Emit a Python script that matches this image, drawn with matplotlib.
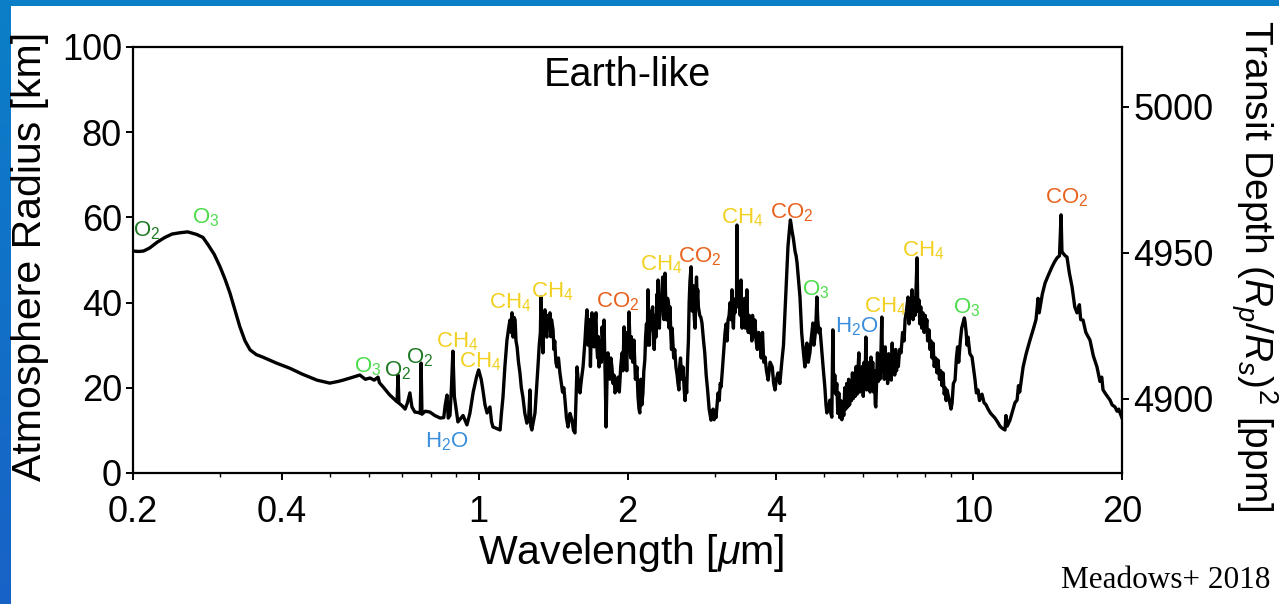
import matplotlib
matplotlib.use("Agg")
import matplotlib.pyplot as plt
import numpy as np
from matplotlib.colors import LinearSegmentedColormap
from matplotlib.ticker import FixedLocator, FixedFormatter, NullFormatter

plt.rcParams['font.family'] = ['Liberation Sans', 'DejaVu Sans']
plt.rcParams['mathtext.fontset'] = 'custom'
plt.rcParams['mathtext.rm'] = 'Liberation Sans'
plt.rcParams['mathtext.it'] = 'Liberation Sans:italic'
plt.rcParams['mathtext.bf'] = 'Liberation Sans:bold'

# ---- spectrum, split by region: wavelength [um] / atmosphere height [km] ----
uv_vis_wl = [
    0.200, 0.205, 0.210, 0.216, 0.224, 0.232, 0.240, 0.249, 0.258, 0.269,
    0.277, 0.284, 0.292, 0.300, 0.307, 0.314, 0.321, 0.329, 0.337, 0.345,
    0.355, 0.366, 0.390, 0.415, 0.440, 0.471, 0.500, 0.520, 0.532, 0.550,
    0.575, 0.590, 0.603, 0.615, 0.626, 0.630, 0.641, 0.660, 0.684, 0.687,
    0.690, 0.700, 0.710, 0.718, 0.726, 0.733, 0.743, 0.755, 0.762, 0.765,
    0.768, 0.780, 0.797, 0.815, 0.836, 0.850, 0.856, 0.863, 0.868, 0.875,
    0.881, 0.887, 0.893, 0.908, 0.930, 0.947, 0.960, 0.975, 0.990,
]
uv_vis_km = [
    52.1, 52.0, 52.1, 52.8, 54.2, 55.3, 56.1, 56.4, 56.6, 56.0,
    55.3, 53.5, 51.3, 48.4, 45.5, 42.3, 38.5, 34.3, 31.0, 28.9,
    27.8, 27.2, 25.8, 24.6, 23.2, 21.8, 21.1, 21.5, 21.8, 22.3,
    23.0, 22.0, 22.3, 21.8, 22.5, 21.2, 20.2, 18.4, 16.7, 23.0,
    16.4, 15.8, 15.0, 16.5, 18.8, 15.5, 14.3, 14.2, 14.0, 25.8,
    13.8, 14.5, 14.3, 13.5, 12.9, 13.0, 16.0, 18.3, 12.9, 13.5,
    20.0, 28.6, 18.0, 12.0, 13.5, 11.3, 14.0, 19.0, 22.5,
]

nir_wl = [
    1.000, 1.012, 1.020, 1.030, 1.040, 1.054, 1.062, 1.069, 1.085, 1.105,
    1.112, 1.120, 1.130, 1.141, 1.150, 1.157, 1.163, 1.168, 1.174, 1.180,
    1.185, 1.190, 1.196, 1.204, 1.212, 1.220, 1.229, 1.240, 1.252, 1.262,
    1.270, 1.275, 1.281, 1.290, 1.300, 1.310, 1.318, 1.326, 1.333, 1.337,
    1.340, 1.345, 1.349, 1.355, 1.362, 1.368, 1.374, 1.380, 1.385, 1.394,
    1.399, 1.404, 1.414, 1.420, 1.425, 1.433, 1.440, 1.450, 1.460, 1.470,
    1.478, 1.487, 1.495, 1.505, 1.516, 1.530, 1.545, 1.555, 1.566, 1.573,
    1.581, 1.592, 1.603, 1.614, 1.626, 1.633, 1.641, 1.648, 1.656, 1.664,
    1.671, 1.677, 1.683, 1.689, 1.695, 1.703, 1.711, 1.719, 1.727, 1.733,
    1.740, 1.746, 1.752, 1.758, 1.765, 1.771, 1.777, 1.785, 1.793, 1.798,
    1.803, 1.810, 1.818, 1.826, 1.834, 1.843, 1.851, 1.860, 1.870, 1.878,
    1.887, 1.900, 1.913, 1.925, 1.938, 1.950, 1.958, 1.968, 1.976, 1.986,
    1.993, 2.000, 2.007, 2.014, 2.022, 2.030, 2.036, 2.042, 2.050, 2.061,
    2.075, 2.090, 2.100, 2.110, 2.118, 2.128, 2.138, 2.149, 2.158, 2.168,
    2.176, 2.185, 2.192, 2.200, 2.207, 2.215, 2.222, 2.229, 2.238, 2.249,
    2.257, 2.265, 2.275, 2.284, 2.290, 2.295, 2.300, 2.306, 2.313, 2.320,
    2.328, 2.335, 2.345, 2.356, 2.363, 2.370, 2.376, 2.382, 2.390, 2.402,
    2.410, 2.420, 2.428, 2.438, 2.446, 2.455, 2.462, 2.469, 2.480, 2.492,
    2.506, 2.520, 2.530, 2.541, 2.550, 2.560, 2.575, 2.590, 2.603, 2.615,
    2.625, 2.634, 2.645, 2.656, 2.665, 2.675, 2.689, 2.697, 2.705, 2.714,
    2.723, 2.731, 2.740, 2.749, 2.758, 2.766, 2.774, 2.782, 2.800, 2.815,
    2.829, 2.850, 2.866, 2.885, 2.904, 2.925, 2.951,
]
nir_km = [
    24.2, 22.0, 19.5, 16.0, 14.1, 15.5, 12.0, 10.8, 10.5, 10.1,
    14.0, 17.8, 25.0, 31.2, 34.0, 35.9, 33.0, 37.6, 31.9, 36.5,
    35.9, 31.0, 29.6, 26.0, 23.5, 20.0, 17.8, 14.0, 11.7, 12.5,
    19.5, 11.0, 10.1, 12.0, 14.1, 20.0, 24.9, 30.0, 33.0, 41.3,
    30.5, 36.0, 28.2, 35.0, 38.3, 33.0, 31.9, 37.0, 34.0, 37.6,
    32.0, 36.0, 33.6, 29.0, 31.0, 26.0, 24.9, 27.0, 23.5, 21.0,
    19.0, 20.0, 17.1, 13.0, 10.8, 14.0, 12.4, 10.0, 9.4, 17.0,
    24.9, 21.0, 18.8, 22.0, 24.9, 28.0, 31.2, 35.0, 38.3, 30.0,
    31.9, 36.0, 25.0, 33.0, 37.6, 32.0, 29.6, 35.0, 37.6, 30.0,
    27.0, 32.0, 24.9, 28.0, 31.0, 26.0, 34.3, 30.0, 35.9, 29.0,
    22.0, 10.8, 22.0, 28.2, 24.0, 22.0, 27.0, 24.9, 21.0, 23.0,
    18.8, 20.0, 22.5, 19.0, 25.0, 28.2, 24.0, 34.3, 26.0, 28.9,
    24.0, 33.0, 30.0, 37.8, 31.0, 27.0, 32.0, 28.2, 26.0, 31.2,
    22.0, 24.9, 18.0, 15.0, 14.1, 22.0, 16.0, 18.8, 24.0, 26.5,
    32.0, 35.0, 30.0, 43.0, 35.0, 30.0, 36.0, 33.6, 38.0, 39.0,
    33.0, 29.0, 37.0, 31.9, 38.0, 42.0, 36.0, 45.3, 38.0, 34.0,
    40.0, 39.0, 42.0, 46.0, 37.0, 36.0, 44.0, 46.9, 40.0, 35.9,
    41.0, 40.0, 34.0, 39.0, 33.0, 29.0, 34.0, 31.2, 27.0, 29.0,
    24.9, 23.0, 21.0, 19.5, 25.0, 27.0, 22.0, 24.9, 20.0, 17.0,
    22.0, 18.8, 26.0, 31.2, 40.0, 45.0, 48.4, 42.0, 38.0, 44.0,
    39.0, 36.0, 34.0, 42.0, 46.0, 41.0, 43.0, 39.0, 37.0, 36.5,
    35.2, 31.0, 28.2, 23.0, 19.5, 15.0, 12.4,
]

mwir_wl = [
    2.965, 2.980, 2.993, 3.006, 3.020, 3.035, 3.049, 3.065, 3.080, 3.092,
    3.110, 3.135, 3.150, 3.165, 3.180, 3.194, 3.210, 3.225, 3.240, 3.253,
    3.262, 3.275, 3.287, 3.299, 3.312, 3.322, 3.330, 3.338, 3.346, 3.358,
    3.370, 3.380, 3.393, 3.402, 3.410, 3.418, 3.424, 3.437, 3.450, 3.463,
    3.475, 3.488, 3.498, 3.510, 3.524, 3.538, 3.555, 3.568, 3.580, 3.600,
    3.621, 3.640, 3.660, 3.685, 3.707, 3.728, 3.750, 3.772, 3.794, 3.820,
    3.850, 3.885, 3.924, 3.950, 3.975, 4.000, 4.031, 4.065, 4.106, 4.135,
    4.164, 4.195, 4.222, 4.250, 4.270, 4.283, 4.300, 4.330, 4.364, 4.385,
    4.405, 4.430, 4.465, 4.500,
]
mwir_km = [
    14.5, 15.0, 12.5, 14.1, 13.0, 16.0, 18.8, 17.0, 21.0, 20.2,
    24.0, 29.6, 33.0, 35.0, 31.0, 35.9, 37.0, 40.0, 36.0, 43.0,
    37.0, 34.0, 40.0, 37.6, 41.0, 39.0, 58.2, 40.0, 39.0, 43.0,
    44.0, 37.0, 45.3, 38.0, 34.0, 39.0, 35.9, 39.0, 41.0, 34.0,
    38.0, 43.0, 36.0, 33.0, 37.0, 32.9, 36.0, 31.0, 37.0, 32.0,
    35.9, 31.0, 29.0, 33.0, 30.5, 27.0, 33.0, 26.0, 27.2, 24.0,
    21.8, 26.0, 24.9, 21.0, 19.5, 22.0, 23.5, 21.0, 26.5, 30.0,
    37.6, 46.0, 53.1, 57.0, 59.4, 58.5, 57.0, 55.0, 52.0, 51.0,
    49.3, 46.0, 41.3, 33.0,
]

tir_wl = [
    4.526, 4.568, 4.590, 4.611, 4.640, 4.676, 4.700, 4.720, 4.742, 4.765,
    4.786, 4.805, 4.831, 4.850, 4.876, 4.900, 4.945, 4.980, 5.013, 5.040,
    5.060, 5.095, 5.131, 5.155, 5.179, 5.203, 5.225, 5.250, 5.276, 5.300,
    5.325, 5.350, 5.375, 5.400, 5.425, 5.451, 5.475, 5.500, 5.527, 5.550,
    5.575, 5.600, 5.625, 5.650, 5.675, 5.700, 5.725, 5.750, 5.775, 5.800,
    5.825, 5.850, 5.873, 5.895, 5.920, 5.945, 5.970, 5.995, 6.020, 6.045,
    6.067, 6.090, 6.115, 6.140, 6.165, 6.190, 6.215, 6.240, 6.265, 6.290,
    6.315, 6.340, 6.356, 6.380, 6.405, 6.430, 6.455, 6.480, 6.505, 6.536,
    6.560, 6.585, 6.610, 6.640, 6.665, 6.690, 6.715, 6.745, 6.770, 6.800,
    6.830, 6.860, 6.885, 6.912, 6.940, 6.970, 7.000, 7.030, 7.060, 7.100,
    7.148, 7.200, 7.250, 7.284, 7.330, 7.385, 7.420, 7.450, 7.490, 7.524,
    7.560, 7.595, 7.630, 7.660, 7.701, 7.730, 7.772, 7.800, 7.835, 7.870,
    7.919, 7.960, 8.000, 8.030, 8.060, 8.090, 8.144, 8.180, 8.220, 8.260,
    8.297, 8.340, 8.400, 8.450, 8.493, 8.550, 8.600, 8.650, 8.693, 8.740,
    8.780, 8.820, 8.856, 8.950, 9.020, 9.066, 9.120, 9.192, 9.250, 9.300,
    9.350, 9.420, 9.480, 9.541, 9.600, 9.630, 9.680, 9.720, 9.765, 9.850,
    9.949, 10.02, 10.09, 10.15, 10.23, 10.30, 10.42, 10.52, 10.62, 10.72,
    10.85, 11.07, 11.20, 11.33, 11.45, 11.60, 11.65, 11.72, 11.87, 12.05,
    12.15, 12.27, 12.35, 12.42, 12.62, 12.80, 13.03, 13.25, 13.40, 13.53,
    13.60, 13.80, 13.98, 14.20, 14.44, 14.60, 14.78, 14.95, 15.06, 15.12,
    15.20, 15.35, 15.48, 15.65, 15.85, 16.05, 16.22, 16.40, 16.50, 16.68,
    16.90, 17.23, 17.50, 17.80, 18.05, 18.20, 18.31, 18.55, 18.92, 19.10,
    19.36, 19.55, 19.70, 19.82, 20.00,
]
tir_km = [
    29.6, 24.9, 29.0, 30.5, 26.0, 28.2, 31.0, 33.0, 35.2, 30.0,
    31.9, 34.0, 41.3, 36.0, 32.9, 34.0, 28.2, 24.0, 20.2, 16.0,
    14.1, 15.0, 17.1, 14.0, 13.1, 33.6, 19.0, 23.0, 18.5, 21.0,
    14.0, 18.8, 13.0, 17.0, 12.5, 16.0, 13.5, 20.0, 15.0, 21.0,
    15.5, 22.0, 16.0, 21.5, 17.0, 23.5, 17.5, 22.0, 18.0, 25.0,
    18.5, 24.0, 28.2, 19.0, 24.0, 19.5, 25.0, 18.0, 26.0, 20.0,
    31.9, 19.5, 26.0, 20.0, 25.0, 19.0, 27.2, 20.5, 26.0, 19.0,
    24.0, 16.0, 15.5, 22.0, 28.2, 21.5, 26.0, 22.0, 27.0, 36.6,
    24.0, 28.0, 22.0, 29.6, 23.0, 27.0, 21.0, 28.0, 22.5, 27.0,
    21.8, 30.5, 24.0, 28.0, 23.0, 29.0, 24.0, 27.0, 25.0, 29.0,
    28.2, 33.0, 31.0, 36.0, 38.0, 41.3, 35.0, 40.0, 37.0, 43.0,
    36.0, 41.0, 37.0, 42.0, 50.5, 38.0, 40.6, 35.0, 39.0, 34.0,
    37.6, 33.0, 37.0, 34.0, 36.0, 31.0, 33.6, 29.0, 31.0, 27.0,
    30.5, 25.0, 27.0, 23.5, 26.5, 22.0, 24.0, 20.5, 23.5, 18.5,
    20.0, 17.0, 19.5, 17.0, 15.0, 16.4, 21.0, 21.8, 27.0, 29.6,
    26.0, 31.0, 34.0, 35.2, 36.4, 35.5, 33.0, 30.0, 31.9, 28.0,
    27.2, 24.5, 21.8, 18.8, 19.5, 17.0, 18.5, 16.5, 16.0, 15.0,
    14.0, 12.9, 12.0, 11.0, 10.5, 10.1, 13.5, 11.0, 12.4, 15.0,
    16.5, 17.1, 20.5, 19.0, 24.9, 28.0, 31.2, 34.0, 36.0, 41.0,
    37.6, 42.0, 44.6, 46.5, 48.4, 49.5, 50.5, 51.0, 60.6, 52.0,
    51.6, 51.0, 50.7, 47.0, 43.7, 39.0, 37.6, 39.5, 36.0, 35.9,
    33.0, 31.2, 27.5, 24.9, 21.5, 22.5, 19.5, 18.5, 17.1, 16.0,
    15.5, 14.5, 15.0, 14.1, 12.9,
]

# ---- molecule annotations: text, wavelength [um], height [km], species ----
mol_text = ["O$_2$", "O$_3$", "O$_3$", "O$_2$", "O$_2$", "CH$_4$", "CH$_4$",
            "H$_2$O", "CH$_4$", "CH$_4$", "CO$_2$", "CH$_4$", "CO$_2$",
            "CH$_4$", "CO$_2$", "O$_3$", "H$_2$O", "CH$_4$", "CH$_4$",
            "O$_3$", "CO$_2$"]
mol_wl = [0.2134, 0.280, 0.597, 0.687, 0.761, 0.904, 1.006,
          0.863, 1.157, 1.407, 1.913, 2.335, 2.80,
          3.41, 4.30, 4.81, 5.83, 6.63, 7.92,
          9.72, 15.48]
mol_h = [56.8, 59.9, 24.9, 23.9, 27.0, 30.8, 26.1,
         7.3, 39.9, 42.5, 40.1, 48.8, 50.7,
         59.9, 61.0, 43.0, 34.3, 39.0, 52.3,
         38.7, 64.6]
mol_species = ["O2", "O3", "O3", "O2", "O2", "CH4", "CH4",
               "H2O", "CH4", "CH4", "CO2", "CH4", "CO2",
               "CH4", "CO2", "O3", "H2O", "CH4", "CH4",
               "O3", "CO2"]
species_color = {"O2": "#1f7a24", "O3": "#4cdc4c", "CH4": "#f2d020",
                 "CO2": "#e8621e", "H2O": "#3a8edc"}

x_major = [0.2, 0.4, 1, 2, 4, 10, 20]
x_major_labels = ["0.2", "0.4", "1", "2", "4", "10", "20"]
x_minor = [0.3, 0.5, 0.6, 0.7, 0.8, 0.9, 3, 5, 6, 7, 8, 9]
y_ticks = [0, 20, 40, 60, 80, 100]
depth_ticks = [4900, 4950, 5000]

# transit-depth calibration of the height axis
DEPTH_REF, H_REF, PPM_PER_KM = 4900.0, 17.4, 1.459


def km_to_ppm(h):
    return DEPTH_REF + (np.asarray(h) - H_REF) * PPM_PER_KM


def ppm_to_km(d):
    return H_REF + (np.asarray(d) - DEPTH_REF) / PPM_PER_KM


wavelength_um = uv_vis_wl + nir_wl + mwir_wl + tir_wl
radius_km = uv_vis_km + nir_km + mwir_km + tir_km

W, H = 1279, 604
fig = plt.figure(figsize=(W / 100, H / 100), dpi=100)
fig.patch.set_facecolor("white")

# slide frame: blue bar on top, gradient strip on the left
top = fig.add_axes([0, 1 - 6 / H, 1, 6 / H])
top.set_axis_off()
top.add_patch(plt.Rectangle((0, 0), 1, 1, color="#0a7fc6", transform=top.transAxes))
left = fig.add_axes([0, 0, 11 / W, 1])
left.set_axis_off()
grad = np.linspace(0, 1, 256).reshape(-1, 1)
cmap = LinearSegmentedColormap.from_list("frame", ["#0b7fc8", "#1862c6"])
left.imshow(grad, aspect="auto", cmap=cmap, extent=[0, 1, 0, 1], origin="upper")

ax = fig.add_axes([133 / W, 1 - 473 / H, (1122 - 133) / W, (473 - 47) / H])
ax.plot(wavelength_um, radius_km, color="black", lw=2.4, solid_joinstyle="round")
ax.set_xscale("log")
ax.set_xlim(0.2, 20)
ax.set_ylim(0, 100)
ax.xaxis.set_major_locator(FixedLocator(x_major))
ax.xaxis.set_major_formatter(FixedFormatter(x_major_labels))
ax.xaxis.set_minor_locator(FixedLocator(x_minor))
ax.xaxis.set_minor_formatter(NullFormatter())
ax.yaxis.set_major_locator(FixedLocator(y_ticks))
ax.tick_params(axis="both", which="major", direction="out", length=5, width=1.4,
               labelsize=26, pad=3)
ax.tick_params(axis="x", which="major", pad=11)
ax.tick_params(axis="x", which="minor", direction="out", length=3, width=1.0)
ax.tick_params(axis="y", right=False)
for s in ax.spines.values():
    s.set_linewidth(1.6)
ax.spines["right"].set_visible(False)

sec = ax.secondary_yaxis("right", functions=(km_to_ppm, ppm_to_km))
sec.yaxis.set_major_locator(FixedLocator(depth_ticks))
sec.tick_params(direction="out", length=5, width=1.4, labelsize=26, pad=3)
sec.spines["right"].set_linewidth(1.6)

for t, wl, h, sp in zip(mol_text, mol_wl, mol_h, mol_species):
    ax.text(wl, h, t, color=species_color[sp], fontsize=16, ha="center",
            va="center")

ax.text(0.5, 0.935, "Earth-like", transform=ax.transAxes, fontsize=28.5,
        ha="center", va="center")

fig.text(30 / W, 1 - 256 / H, "Atmosphere Radius [km]", rotation=90,
         fontsize=29.5, ha="center", va="center")
fig.text(631 / W, 1 - 553 / H, r"Wavelength [$\mu$m]", fontsize=29.5,
         ha="center", va="center")
fig.text(1254 / W, 1 - 266 / H, r"Transit Depth ($R_p/R_s$)$^2$ [ppm]",
         rotation=270, fontsize=28, ha="center", va="center")
fig.text(1166 / W, 1 - 580 / H, "Meadows+ 2018", fontsize=22.5,
         family="Liberation Serif", ha="center", va="center")

fig.savefig("out.png", dpi=100)
